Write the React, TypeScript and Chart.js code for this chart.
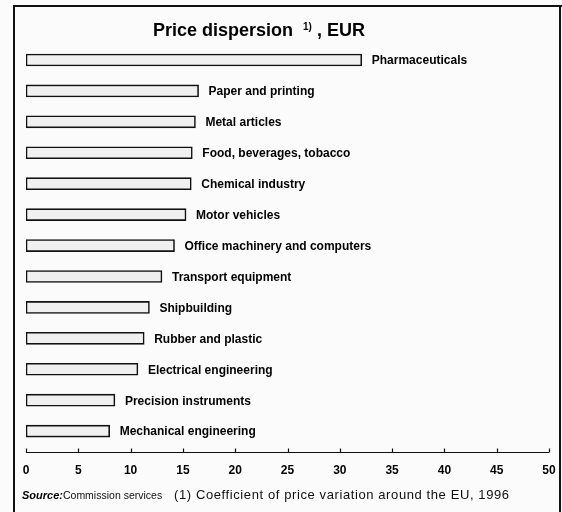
import React, { useEffect, useRef } from "react";
import { Chart, registerables } from "chart.js";

Chart.register(...registerables);

const categories: string[] = [
  "Pharmaceuticals",
  "Paper and printing",
  "Metal articles",
  "Food, beverages, tobacco",
  "Chemical industry",
  "Motor vehicles",
  "Office machinery and computers",
  "Transport equipment",
  "Shipbuilding",
  "Rubber and plastic",
  "Electrical engineering",
  "Precision instruments",
  "Mechanical engineering",
];

const dispersion: number[] = [32.1, 16.5, 16.2, 15.9, 15.8, 15.3, 14.2, 13.0, 11.8, 11.3, 10.7, 8.5, 8.0];

const xTicks: number[] = [0, 5, 10, 15, 20, 25, 30, 35, 40, 45, 50];

const titleMain = "Price dispersion";
const titleSup = "1)";
const titleTail = ", EUR";
const sourceLabel = "Source:";
const sourceText = "Commission services";
const footnote = "(1) Coefficient of price variation around the EU, 1996";

const FONT = '"Liberation Sans", Arial, sans-serif';

const decorPlugin = {
  id: "decor",
  beforeDraw(chart: any) {
    const ctx = chart.ctx;
    ctx.save();
    ctx.fillStyle = "#fbfbfb";
    ctx.fillRect(0, 0, chart.width, chart.height);
    ctx.restore();
  },
  afterDraw(chart: any) {
    const ctx = chart.ctx;
    const xs = chart.scales.x;
    const area = chart.chartArea;
    ctx.save();
    // frame
    ctx.strokeStyle = "#111";
    ctx.lineWidth = 2;
    ctx.beginPath();
    ctx.moveTo(14, 512);
    ctx.lineTo(14, 6);
    ctx.lineTo(562, 6);
    ctx.stroke();
    ctx.beginPath();
    ctx.moveTo(560, 6);
    ctx.lineTo(560, 512);
    ctx.stroke();

    // axis line with upward ticks
    const ay = Math.round(area.bottom + 5) + 0.5;
    ctx.lineWidth = 1.2;
    ctx.beginPath();
    ctx.moveTo(xs.getPixelForValue(xTicks[0]), ay);
    ctx.lineTo(xs.getPixelForValue(xTicks[xTicks.length - 1]), ay);
    ctx.stroke();
    xTicks.forEach((t) => {
      const px = Math.round(xs.getPixelForValue(t)) + 0.5;
      ctx.beginPath();
      ctx.moveTo(px, ay);
      ctx.lineTo(px, ay - 4);
      ctx.stroke();
    });

    // title
    ctx.fillStyle = "#000";
    ctx.textBaseline = "alphabetic";
    ctx.textAlign = "left";
    let tx = 153;
    const ty = 36;
    ctx.font = `bold 18px ${FONT}`;
    ctx.fillText(titleMain, tx, ty);
    tx += ctx.measureText(titleMain + "  ").width;
    ctx.font = `bold 10px ${FONT}`;
    ctx.fillText(titleSup, tx, ty - 6);
    tx += ctx.measureText(titleSup).width + 5;
    ctx.font = `bold 18px ${FONT}`;
    ctx.fillText(titleTail, tx, ty);

    // bar labels
    ctx.font = `bold 12px ${FONT}`;
    ctx.textBaseline = "middle";
    const meta = chart.getDatasetMeta(0);
    meta.data.forEach((bar: any, i: number) => {
      ctx.fillText(categories[i], bar.x + 10, bar.y + 1);
    });

    // footer
    ctx.textBaseline = "alphabetic";
    ctx.font = `italic bold 11px ${FONT}`;
    ctx.fillText(sourceLabel, 22, 499);
    const sw = ctx.measureText(sourceLabel).width;
    ctx.font = `10.5px ${FONT}`;
    ctx.fillStyle = "#111";
    ctx.fillText(sourceText, 22 + sw, 499);
    ctx.font = `13px ${FONT}`;
    try {
      (ctx as any).letterSpacing = "0.6px";
    } catch (e) {}
    ctx.fillText(footnote, 174, 499);
    try {
      (ctx as any).letterSpacing = "0px";
    } catch (e) {}
    ctx.restore();
  },
};

export default function App() {
  const ref = useRef<HTMLCanvasElement | null>(null);

  useEffect(() => {
    if (!ref.current) return;
    const chart = new Chart(ref.current, {
      type: "bar",
      data: {
        labels: categories,
        datasets: [
          {
            data: dispersion,
            backgroundColor: "#f0f0f0",
            borderColor: "#111",
            borderWidth: 1.6,
            borderSkipped: false,
            barThickness: 12,
          },
        ],
      },
      options: {
        indexAxis: "y",
        responsive: false,
        animation: false,
        layout: { padding: { left: 26, right: 13, top: 44.5, bottom: 17 } },
        plugins: {
          legend: { display: false },
          title: { display: false },
          tooltip: { enabled: false },
        },
        scales: {
          y: { display: false },
          x: {
            min: 0,
            max: 50,
            grid: { display: false, drawTicks: false },
            border: { display: false },
            afterFit: (scale: any) => {
              scale.paddingLeft = 0;
              scale.paddingRight = 0;
            },
            ticks: {
              stepSize: 5,
              padding: 17,
              color: "#000",
              font: { family: FONT, size: 12, weight: "bold" },
            },
          },
        },
      },
      plugins: [decorPlugin],
    });
    return () => chart.destroy();
  }, []);

  return (
    <div style={{ position: "fixed", left: 0, top: 0, width: 562, height: 512 }}>
      <canvas ref={ref} width={562} height={512} />
    </div>
  );
}
